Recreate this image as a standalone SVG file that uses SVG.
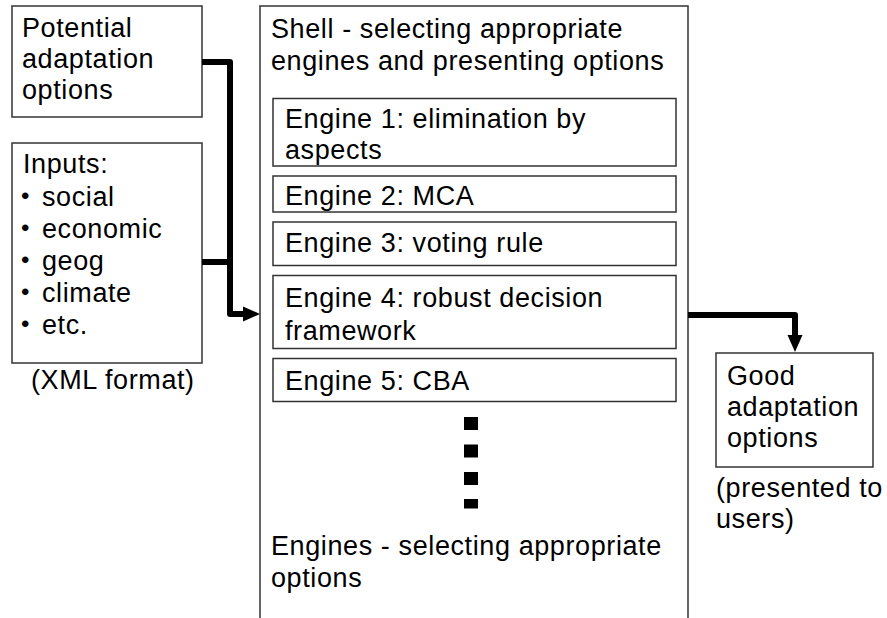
<svg xmlns="http://www.w3.org/2000/svg" width="887" height="618" viewBox="0 0 887 618">
<style>
.box{fill:#fff;stroke:#333;stroke-width:1.5}
.t{font-family:"Liberation Sans",Arial,sans-serif;font-size:27px;letter-spacing:0.6px;fill:#000}
.b{font-family:"Liberation Sans",Arial,sans-serif;font-size:24px;fill:#000}
.con{fill:none;stroke:#000;stroke-width:6;stroke-linejoin:round}
.dot{fill:#000}
</style>
<defs>
<marker id="ah" markerUnits="userSpaceOnUse" markerWidth="18" markerHeight="16" refX="0" refY="7.5" orient="auto" overflow="visible">
<path d="M0,0 L17,7.5 L0,15 z" fill="#000"/>
</marker>
</defs>
<rect width="887" height="618" fill="#fff"/>

<g id="shell">
<rect class="box" x="260" y="6" width="428" height="640"/>
<text class="t" x="271" y="38">Shell - selecting appropriate</text>
<text class="t" x="271" y="70">engines and presenting options</text>
<text class="t" x="271" y="555">Engines - selecting appropriate</text>
<text class="t" x="271" y="587">options</text>
<rect class="dot" x="464" y="417" width="14" height="13"/>
<rect class="dot" x="464" y="444.5" width="14" height="13"/>
<rect class="dot" x="464" y="472" width="14" height="13"/>
<rect class="dot" x="464" y="499" width="14" height="9.5"/>
</g>

<g id="engine1">
<rect class="box" x="273" y="98.5" width="403" height="67.5"/>
<text class="t" x="285" y="128">Engine 1: elimination by</text>
<text class="t" x="285" y="159">aspects</text>
</g>
<g id="engine2">
<rect class="box" x="273" y="176" width="403" height="36"/>
<text class="t" x="285" y="205">Engine 2: MCA</text>
</g>
<g id="engine3">
<rect class="box" x="273" y="222" width="403" height="43.5"/>
<text class="t" x="285" y="252">Engine 3: voting rule</text>
</g>
<g id="engine4">
<rect class="box" x="273" y="275.5" width="403" height="73"/>
<text class="t" x="285" y="307">Engine 4: robust decision</text>
<text class="t" x="285" y="340">framework</text>
</g>
<g id="engine5">
<rect class="box" x="273" y="358.5" width="403" height="43"/>
<text class="t" x="285" y="390">Engine 5: CBA</text>
</g>

<g id="potential">
<rect class="box" x="12" y="6" width="190" height="111"/>
<text class="t" x="22" y="37">Potential</text>
<text class="t" x="22" y="68">adaptation</text>
<text class="t" x="22" y="99">options</text>
</g>

<g id="inputs">
<rect class="box" x="12" y="143" width="190" height="220"/>
<text class="t" x="23" y="173">Inputs:</text>
<text class="b" x="21" y="204">•</text>
<text class="t" x="42" y="206">social</text>
<text class="b" x="21" y="236">•</text>
<text class="t" x="42" y="238">economic</text>
<text class="b" x="21" y="268">•</text>
<text class="t" x="42" y="270">geog</text>
<text class="b" x="21" y="300">•</text>
<text class="t" x="42" y="302">climate</text>
<text class="b" x="21" y="332">•</text>
<text class="t" x="42" y="334">etc.</text>
<text class="t" x="31" y="389">(XML format)</text>
</g>

<g id="good">
<rect class="box" x="716" y="353" width="157" height="114"/>
<text class="t" x="727" y="385">Good</text>
<text class="t" x="727" y="416">adaptation</text>
<text class="t" x="727" y="447">options</text>
<text class="t" x="716" y="497">(presented to</text>
<text class="t" x="716" y="528">users)</text>
</g>

<g id="connectors">
<path class="con" d="M202,62 H230 V314 H243" marker-end="url(#ah)"/>
<path class="con" d="M202,262 H230"/>
<path class="con" d="M688,315 H795 V335" marker-end="url(#ah)"/>
</g>
</svg>
